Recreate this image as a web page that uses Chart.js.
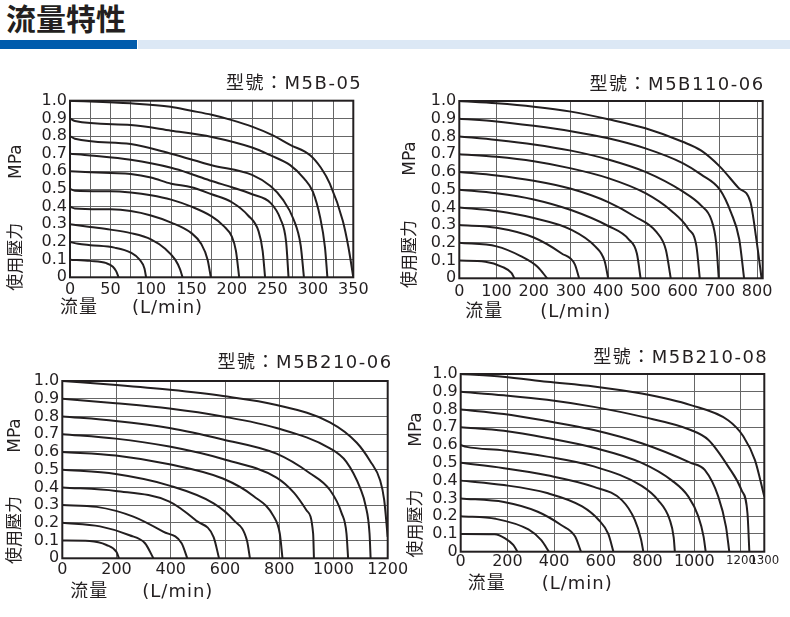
<!DOCTYPE html>
<html>
<head>
<meta charset="utf-8">
<script src="https://cdn.jsdelivr.net/npm/chart.js@4.4.1/dist/chart.umd.min.js"></script>
<style>
  html, body { margin: 0; padding: 0; background: #fff; }
  body { width: 790px; height: 617px; position: relative; overflow: hidden; }
  #head { position: absolute; left: 6px; top: 0px; font: bold 30px/34px "Noto Sans CJK TC", "Noto Sans CJK SC"; color: #231f20; }
  .bar { position: absolute; top: 40px; height: 9px; }
  #barDark { left: 0; width: 137px; background: #005bac; }
  #barLight { left: 138px; width: 652px; background: #dce8f5; }
  canvas { position: absolute; }
</style>
</head>
<body>
<div id="head">流量特性</div>
<div class="bar" id="barDark"></div>
<div class="bar" id="barLight"></div>
<canvas id="c1" width="395" height="280" style="left:0;top:60px"></canvas>
<canvas id="c2" width="395" height="280" style="left:395px;top:60px"></canvas>
<canvas id="c3" width="420" height="277" style="left:0;top:340px"></canvas>
<canvas id="c4" width="395" height="277" style="left:395px;top:340px"></canvas>
<script>
// flow curves, one per supply pressure 1.0 ... 0.1 MPa, as [L/min, MPa]
const m5b05 = [
  [[0,1.0],[75,0.985],[124,0.966],[150,0.943],[175,0.92],[200,0.89],[225,0.853],[250,0.805],[272,0.75],[297,0.69],[310,0.62],[321,0.53],[337,0.32],[344,0.17],[350,0]],
  [[0,0.9],[6,0.885],[75,0.862],[125,0.83],[175,0.795],[225,0.735],[248,0.69],[272,0.635],[289,0.56],[300,0.485],[309,0.34],[315,0.17],[318,0]],
  [[0,0.8],[6,0.785],[75,0.755],[125,0.7],[175,0.635],[225,0.58],[248,0.515],[263,0.44],[276,0.33],[285,0.18],[289,0]],
  [[0,0.7],[25,0.69],[75,0.665],[125,0.62],[150,0.585],[175,0.545],[200,0.51],[225,0.47],[248,0.42],[260,0.33],[267,0.2],[270,0]],
  [[0,0.6],[50,0.59],[75,0.585],[100,0.565],[125,0.53],[150,0.51],[175,0.47],[200,0.425],[220,0.35],[233,0.26],[238,0.15],[241,0]],
  [[0,0.5],[6,0.49],[50,0.487],[75,0.48],[100,0.465],[125,0.44],[150,0.4],[175,0.345],[190,0.29],[200,0.23],[205,0.15],[209,0]],
  [[0,0.4],[6,0.39],[50,0.385],[75,0.375],[100,0.35],[125,0.31],[150,0.25],[162,0.19],[170,0.1],[174,0]],
  [[0,0.3],[25,0.285],[50,0.27],[75,0.25],[100,0.215],[118,0.16],[130,0.1],[136,0.045],[139,0]],
  [[0,0.2],[10,0.19],[25,0.182],[55,0.168],[75,0.14],[86,0.1],[92,0.05],[94,0]],
  [[0,0.1],[25,0.093],[45,0.08],[53,0.06],[57,0.035],[60,0]]
];
const m5b11006 = [
  [[0,1.0],[100,0.987],[200,0.968],[300,0.94],[400,0.897],[500,0.846],[600,0.77],[650,0.72],[700,0.63],[750,0.51],[782,0.43],[798,0.22],[812,0]],
  [[0,0.9],[100,0.885],[200,0.86],[300,0.83],[400,0.79],[500,0.733],[600,0.65],[650,0.585],[700,0.5],[730,0.37],[752,0.22],[765,0]],
  [[0,0.8],[100,0.78],[200,0.755],[300,0.72],[400,0.67],[500,0.6],[600,0.49],[650,0.41],[677,0.33],[690,0.2],[697,0]],
  [[0,0.7],[100,0.685],[200,0.66],[300,0.62],[400,0.565],[500,0.48],[570,0.38],[615,0.28],[637,0.18],[646,0]],
  [[0,0.6],[100,0.58],[200,0.55],[300,0.505],[400,0.43],[470,0.35],[530,0.26],[555,0.16],[568,0]],
  [[0,0.5],[100,0.48],[200,0.445],[300,0.385],[400,0.295],[455,0.22],[477,0.14],[487,0]],
  [[0,0.4],[100,0.38],[200,0.34],[300,0.275],[365,0.18],[390,0.1],[400,0]],
  [[0,0.3],[100,0.285],[200,0.23],[275,0.14],[310,0.08],[322,0]],
  [[0,0.2],[100,0.18],[165,0.125],[210,0.065],[236,0]],
  [[0,0.1],[70,0.094],[115,0.065],[140,0.03],[148,0]]
];
const m5b21006 = [
  [[0,1.0],[200,0.977],[397,0.95],[593,0.915],[790,0.865],[987,0.767],[1086,0.652],[1135,0.549],[1172,0.44],[1187,0.33],[1200,0.12]],
  [[0,0.9],[197,0.875],[395,0.845],[592,0.8],[790,0.735],[987,0.62],[1047,0.545],[1100,0.39],[1118,0.3],[1133,0.14],[1137,0]],
  [[0,0.8],[197,0.775],[395,0.735],[592,0.67],[790,0.59],[913,0.48],[987,0.385],[1030,0.255],[1048,0.14],[1054,0]],
  [[0,0.7],[197,0.675],[395,0.63],[592,0.56],[790,0.455],[854,0.37],[901,0.27],[925,0.14],[928,0]],
  [[0,0.6],[197,0.58],[395,0.53],[592,0.45],[706,0.35],[780,0.235],[802,0.14],[812,0]],
  [[0,0.5],[197,0.475],[395,0.41],[558,0.31],[632,0.215],[681,0.1],[692,0]],
  [[0,0.4],[197,0.38],[395,0.32],[496,0.21],[558,0.12],[578,0]],
  [[0,0.3],[127,0.29],[262,0.235],[372,0.15],[440,0.085],[461,0]],
  [[0,0.2],[139,0.18],[248,0.13],[305,0.085],[336,0]],
  [[0,0.1],[101,0.098],[163,0.075],[200,0.035],[209,0]]
];
const m5b21008 = [
  [[0,1.0],[180,0.985],[370,0.957],[570,0.93],[775,0.89],[985,0.825],[1145,0.74],[1210,0.65],[1260,0.515],[1300,0.31]],
  [[0,0.9],[185,0.88],[370,0.855],[570,0.815],[775,0.76],[985,0.685],[1060,0.63],[1145,0.48],[1203,0.345],[1228,0.215],[1236,0]],
  [[0,0.8],[185,0.775],[370,0.735],[570,0.685],[775,0.61],[985,0.5],[1045,0.46],[1103,0.31],[1136,0.14],[1150,0]],
  [[0,0.7],[185,0.68],[370,0.64],[570,0.585],[775,0.5],[905,0.4],[975,0.31],[1017,0.2],[1040,0.085],[1049,0]],
  [[0,0.6],[25,0.59],[185,0.57],[370,0.535],[570,0.48],[775,0.37],[845,0.29],[895,0.18],[912,0.08],[917,0]],
  [[0,0.5],[185,0.47],[370,0.43],[570,0.365],[690,0.29],[745,0.18],[772,0.07],[782,0]],
  [[0,0.4],[185,0.375],[370,0.33],[520,0.255],[590,0.18],[632,0.1],[654,0]],
  [[0,0.3],[185,0.28],[330,0.225],[430,0.15],[490,0.085],[515,0]],
  [[0,0.2],[150,0.185],[290,0.125],[345,0.065],[378,0]],
  [[0,0.1],[145,0.098],[190,0.075],[225,0.038],[243,0]]
];
const m5b21008Ticks = [0, 200, 400, 600, 800, 1000, 1200, 1300];

const INK = '#231f20';
const GRID = '#666';
const FONT = '"DejaVu Sans", "Noto Sans CJK TC"';

// frame + model title + axis captions, placed relative to the chart area
const chartText = {
  id: 'chartText',
  afterDraw(chart, args, o) {
    const { ctx, chartArea: a } = chart;
    ctx.save();
    ctx.strokeStyle = INK;
    ctx.lineWidth = 2;
    ctx.strokeRect(a.left, a.top, a.right - a.left, a.bottom - a.top);

    ctx.fillStyle = INK;
    ctx.textBaseline = 'middle';
    ctx.font = '18px ' + FONT;
    ctx.letterSpacing = '1.5px';
    ctx.textAlign = 'right';
    ctx.fillText(o.title, a.right + o.titleDx, a.top + o.titleDy);

    ctx.letterSpacing = '1px';
    ctx.textAlign = 'left';
    ctx.font = '18px ' + FONT;
    ctx.fillText('流量', a.left + o.flowDx, a.bottom + o.flowDy);
    ctx.fillText('(L/min)', a.left + o.unitDx, a.bottom + o.flowDy);

    ctx.font = '17px ' + FONT;
    ctx.letterSpacing = '0px';
    ctx.textAlign = 'center';
    ctx.translate(a.left + o.sideDx, a.top);
    ctx.rotate(-Math.PI / 2);
    ctx.fillText('MPa', -o.mpaDy, 0);
    ctx.fillText('使用壓力', -o.pressDy, 0);
    ctx.restore();
  }
};

const tickFont = { family: FONT, size: 16 };

function makeChart(id, curves, xOpts, pad, text) {
  const datasets = curves.map(c => ({
    data: c.map(p => ({ x: p[0], y: p[1] })),
    borderColor: INK,
    borderWidth: 2,
    pointRadius: 0,
    cubicInterpolationMode: 'monotone',
    fill: false
  }));
  return new Chart(document.getElementById(id), {
    type: 'scatter',
    data: { datasets },
    plugins: [chartText],
    options: {
      responsive: false,
      animation: false,
      showLine: true,
      layout: { padding: pad.box },
      plugins: { legend: { display: false }, tooltip: { enabled: false }, chartText: text },
      scales: {
        x: Object.assign({
          type: 'linear',
          min: 0,
          grid: { color: GRID, lineWidth: 1, drawTicks: false },
          border: { display: false },
          afterFit: s => { s.height = 30; }
        }, xOpts),
        y: {
          type: 'linear',
          min: 0,
          max: 1,
          grid: { color: GRID, lineWidth: 1, drawTicks: false },
          border: { display: false },
          ticks: {
            stepSize: 0.1,
            autoSkip: false,
            padding: 3,
            color: INK,
            font: tickFont,
            callback: v => (Math.abs(v) < 1e-9 ? '0' : v.toFixed(1))
          },
          afterFit: s => { s.width = pad.yw; }
        }
      }
    }
  });
}

makeChart('c1', m5b05, {
  max: 350,
  ticks: { stepSize: 25, autoSkip: false, maxRotation: 0, padding: 3, color: INK, font: tickFont,
    callback: v => (v % 50 === 0 ? String(v) : '') }
}, { box: { left: 0, top: 40.7, right: 41.7, bottom: 32.7 }, yw: 70 },
{ title: '型號：M5B-05', titleDx: 9, titleDy: -16, flowDx: -10, unitDx: 62, flowDy: 31,
  sideDx: -53.5, mpaDy: 61, pressDy: 156 });

makeChart('c2', m5b11006, {
  max: 815,
  ticks: { stepSize: 100, includeBounds: false, autoSkip: false, maxRotation: 0, padding: 4, color: INK, font: tickFont,
    callback: v => String(v) }
}, { box: { left: 0, top: 41, right: 27.3, bottom: 31.7 }, yw: 64.3 },
{ title: '型號：M5B110-06', titleDx: 2, titleDy: -16, flowDx: 6, unitDx: 81, flowDy: 34,
  sideDx: -49, mpaDy: 57.5, pressDy: 153 });

makeChart('c3', m5b21006, {
  max: 1200,
  ticks: { stepSize: 200, autoSkip: false, maxRotation: 0, padding: 2, color: INK, font: tickFont,
    callback: v => String(v) }
}, { box: { left: 0, top: 41, right: 32.3, bottom: 28.7 }, yw: 62.3 },
{ title: '型號：M5B210-06', titleDx: 5, titleDy: -18, flowDx: 8, unitDx: 80, flowDy: 34,
  sideDx: -47, mpaDy: 54.5, pressDy: 149 });

makeChart('c4', m5b21008, {
  max: 1300,
  afterBuildTicks: s => { s.ticks = m5b21008Ticks.map(v => ({ value: v })); },
  ticks: { autoSkip: false, maxRotation: 0, padding: 1, color: INK,
    callback: v => String(v),
    font: ctx => (ctx.tick && ctx.tick.value >= 1200
      ? { family: '"Liberation Sans Narrow", "DejaVu Sans Condensed", sans-serif', size: 13 }
      : tickFont) }
}, { box: { left: 0, top: 34, right: 25.7, bottom: 35.3 }, yw: 65.7 },
{ title: '型號：M5B210-08', titleDx: 4, titleDy: -16, flowDx: 7, unitDx: 81, flowDy: 33,
  sideDx: -44, mpaDy: 55.5, pressDy: 149.5 });
</script>
</body>
</html>
